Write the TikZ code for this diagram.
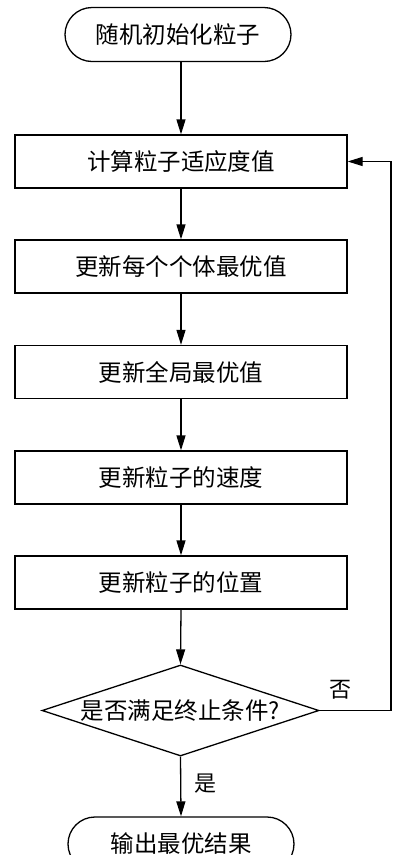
\documentclass[tikz,border=0pt]{standalone}
\usepackage{fontspec}
\setmainfont{Noto Sans CJK SC}
\usetikzlibrary{arrows.meta,shapes.geometric,shapes.misc}
\begin{document}
\begin{tikzpicture}[x=1pt,y=-1pt,
  every node/.style={font=\fontsize{23.5}{26}\selectfont},
  procbox/.style={draw,line width=1.3pt,minimum width=332pt,minimum height=53pt,inner sep=0pt},
  termbox/.style={draw,line width=1.3pt,rounded rectangle,minimum width=226pt,minimum height=54pt,inner sep=0pt},
  decbox/.style={draw,line width=1.3pt,diamond,aspect=3,minimum width=277pt,minimum height=91pt,inner sep=0pt},
  flow/.style={line width=1.3pt,-{Triangle[length=15pt,width=9pt]}},
  lbl/.style={font=\fontsize{22}{24}\selectfont}]
\useasboundingbox (0,0) rectangle (401,855);
\clip (0,0) rectangle (401,855);
\fill[white] (0,0) rectangle (401,855);
\node[termbox] (start) at (178,34.5) {随机初始化粒子};
\node[procbox] (b1) at (181,161.5) {计算粒子适应度值};
\node[procbox] (b2) at (181,266.5) {更新每个个体最优值};
\node[procbox] (b3) at (181,372) {更新全局最优值};
\node[procbox] (b4) at (181,477.5) {更新粒子的速度};
\node[procbox] (b5) at (181,582.5) {更新粒子的位置};
\node[decbox] (dec) at (180.5,710.5) {};
\node (dectext) at (dec.center) {是否满足终止条件?};
\node[termbox] (end) at (181,844) {输出最优结果};
\coordinate (c1) at (391,710.5);
\coordinate (c2) at (391,161.5);
\draw[flow] (start.south -| b1.north) -- (b1.north);
\draw[flow] (b1) -- (b2);
\draw[flow] (b2) -- (b3);
\draw[flow] (b3) -- (b4);
\draw[flow] (b4) -- (b5);
\draw[flow] (b5.south) -- (dec.north);
\draw[flow] (dec.south) -- (end.north);
\draw[flow] (dec.east) -- (c1) -- (c2) -- (b1.east);
\node[lbl] (no) at (340,690) {否};
\node[lbl] (yes) at (205,784) {是};
\end{tikzpicture}
\end{document}
